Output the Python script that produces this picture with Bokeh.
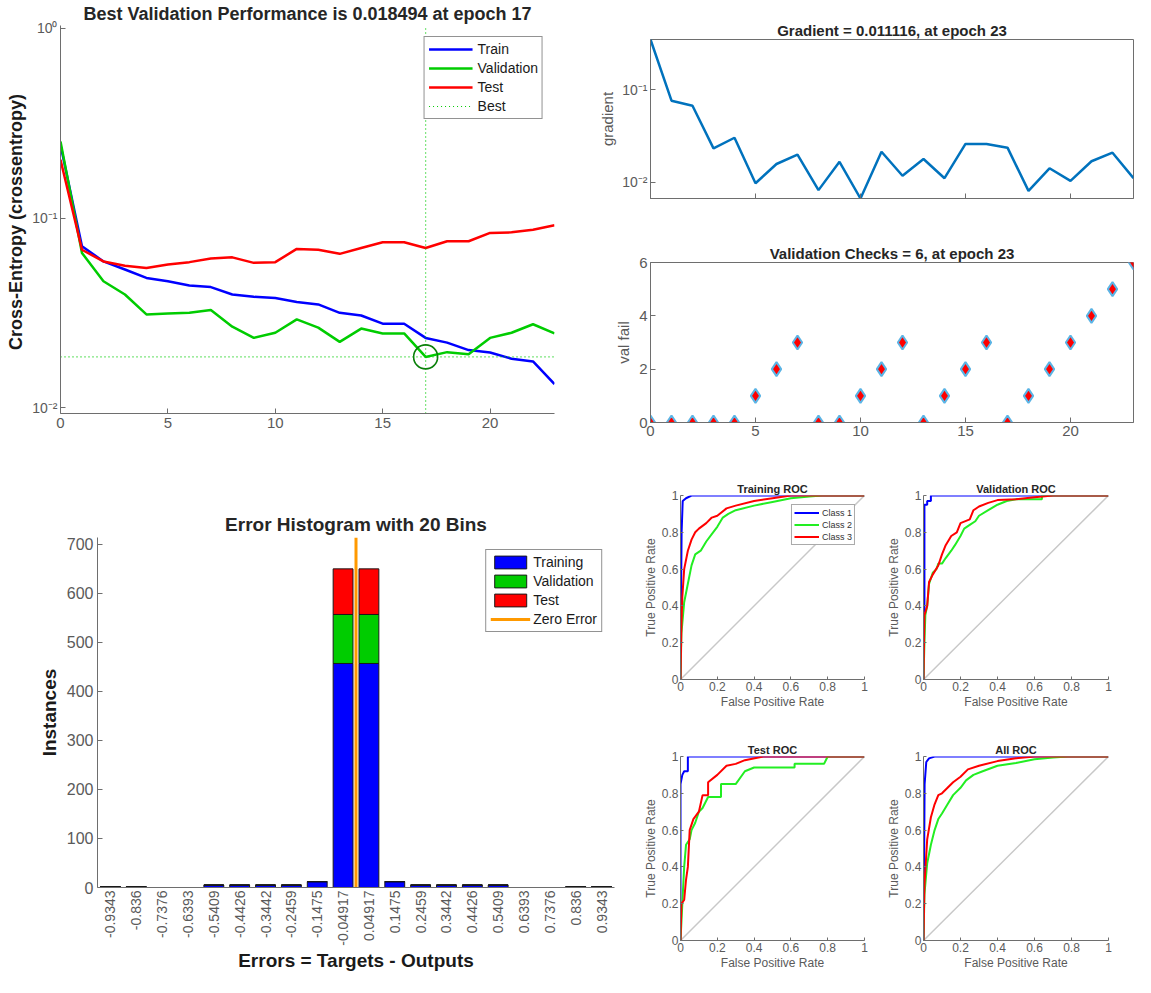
import math
from bokeh.plotting import figure
from bokeh.layouts import row, column
from bokeh.models import (Range1d, FixedTicker, CustomJSTickFormatter, Legend, LegendItem,
                          ColumnDataSource)
from bokeh.embed import file_html
from bokeh.resources import INLINE

# ---------------- data ----------------
epochs = list(range(24))
perf_train = [0.243, 0.071, 0.059, 0.0535, 0.0483, 0.0464, 0.044, 0.0432, 0.0395, 0.0384, 0.0378, 0.036,
              0.035, 0.0316, 0.0306, 0.0277, 0.0277, 0.0233, 0.022, 0.0201, 0.0195, 0.0181, 0.0175, 0.0133]
perf_val = [0.253, 0.0654, 0.0464, 0.0395, 0.031, 0.0313, 0.0316, 0.0327, 0.0267, 0.0233, 0.0248, 0.0292,
            0.0264, 0.0222, 0.0261, 0.0246, 0.0246, 0.018494, 0.0196, 0.0191, 0.0233, 0.0248, 0.0275, 0.0246]
perf_test = [0.203, 0.068, 0.059, 0.056, 0.0545, 0.0568, 0.0585, 0.0611, 0.062, 0.058, 0.0585, 0.0687,
             0.068, 0.0647, 0.0695, 0.0745, 0.0745, 0.0695, 0.0754, 0.0754, 0.0834, 0.084, 0.0868, 0.0916]
best_epoch = 17
best_perf = 0.018494

gradient = [0.347, 0.076, 0.067, 0.0233, 0.0303, 0.0098, 0.0158, 0.0199, 0.00826, 0.0167, 0.00671, 0.0214,
            0.0118, 0.0179, 0.0111, 0.026, 0.026, 0.0237, 0.0081, 0.0142, 0.0104, 0.0169, 0.0209, 0.011116]
val_fail = [0, 0, 0, 0, 0, 1, 2, 3, 0, 0, 1, 2, 3, 0, 1, 2, 3, 0, 1, 2, 3, 4, 5, 6]

bin_centers = [-0.9343, -0.836, -0.7376, -0.6393, -0.5409, -0.4426, -0.3442, -0.2459, -0.1475, -0.04917,
               0.04917, 0.1475, 0.2459, 0.3442, 0.4426, 0.5409, 0.6393, 0.7376, 0.836, 0.9343]
bin_labels = ["-0.9343", "-0.836", "-0.7376", "-0.6393", "-0.5409", "-0.4426", "-0.3442", "-0.2459",
              "-0.1475", "-0.04917", "0.04917", "0.1475", "0.2459", "0.3442", "0.4426", "0.5409",
              "0.6393", "0.7376", "0.836", "0.9343"]
hist_training = [2, 2, 0, 0, 5, 5, 5, 5, 12, 457, 457, 12, 5, 5, 5, 5, 0, 0, 2, 2]
hist_validation = [0, 0, 0, 0, 0, 0, 0, 0, 0, 100, 100, 0, 0, 0, 0, 0, 0, 0, 0, 0]
hist_test = [0, 0, 0, 0, 0, 0, 0, 0, 0, 93, 93, 0, 0, 0, 0, 0, 0, 0, 0, 0]
zero_error = 0.0

tr_c1_fpr = [0, 0.003, 0.006, 0.012, 0.03, 0.06, 1]
tr_c1_tpr = [0, 0.45, 0.8, 0.97, 0.985, 1, 1]
tr_c2_fpr = [0, 0.005, 0.02, 0.04, 0.06, 0.08, 0.11, 0.14, 0.17, 0.2, 0.23, 0.26, 0.3, 0.4, 0.5, 0.6, 0.7, 0.77, 1]
tr_c2_tpr = [0, 0.25, 0.42, 0.52, 0.62, 0.68, 0.7, 0.75, 0.79, 0.83, 0.88, 0.9, 0.92, 0.945, 0.965, 0.985, 0.995, 1, 1]
tr_c3_fpr = [0, 0.005, 0.01, 0.02, 0.04, 0.06, 0.08, 0.1, 0.14, 0.17, 0.2, 0.25, 0.3, 0.4, 0.5, 0.6, 1]
tr_c3_tpr = [0, 0.3, 0.45, 0.6, 0.7, 0.76, 0.8, 0.82, 0.85, 0.88, 0.89, 0.93, 0.945, 0.97, 0.985, 1, 1]

va_c1_fpr = [0, 0, 0.005, 0.005, 0.02, 0.02, 0.04, 0.04, 1]
va_c1_tpr = [0, 0.37, 0.37, 0.95, 0.95, 0.97, 0.97, 1, 1]
va_c2_fpr = [0, 0.005, 0.01, 0.02, 0.03, 0.05, 0.07, 0.08, 0.1, 0.12, 0.15, 0.17, 0.2, 0.22, 0.25, 0.28,
             0.3, 0.35, 0.4, 0.45, 0.5, 0.64, 0.64, 1]
va_c2_tpr = [0, 0.2, 0.35, 0.4, 0.52, 0.58, 0.6, 0.63, 0.63, 0.66, 0.7, 0.73, 0.78, 0.82, 0.84, 0.86,
             0.89, 0.92, 0.95, 0.97, 0.98, 0.98, 1, 1]
va_c3_fpr = [0, 0.005, 0.02, 0.03, 0.05, 0.08, 0.1, 0.12, 0.15, 0.18, 0.2, 0.25, 0.27, 0.3, 0.35, 0.4, 0.5, 0.6, 0.7, 1]
va_c3_tpr = [0, 0.35, 0.4, 0.53, 0.57, 0.62, 0.68, 0.73, 0.78, 0.8, 0.85, 0.87, 0.92, 0.94, 0.96, 0.975, 0.98, 0.99, 1, 1]

te_c1_fpr = [0, 0, 0.01, 0.02, 0.04, 0.04, 1]
te_c1_tpr = [0, 0.85, 0.9, 0.92, 0.92, 1, 1]
te_c2_fpr = [0, 0.005, 0.01, 0.02, 0.03, 0.05, 0.06, 0.08, 0.1, 0.12, 0.15, 0.22, 0.22, 0.3, 0.35, 0.4,
             0.62, 0.62, 0.78, 0.8, 1]
te_c2_tpr = [0, 0.1, 0.2, 0.4, 0.52, 0.55, 0.6, 0.64, 0.7, 0.72, 0.78, 0.78, 0.85, 0.85, 0.92, 0.94,
             0.94, 0.96, 0.96, 1, 1]
te_c3_fpr = [0, 0.005, 0.02, 0.03, 0.04, 0.05, 0.07, 0.1, 0.12, 0.15, 0.15, 0.2, 0.25, 0.3, 0.35, 0.45, 1]
te_c3_tpr = [0, 0.2, 0.22, 0.33, 0.4, 0.6, 0.66, 0.7, 0.79, 0.79, 0.86, 0.9, 0.95, 0.96, 0.98, 1, 1]

al_c1_fpr = [0, 0.003, 0.006, 0.015, 0.03, 0.06, 1]
al_c1_tpr = [0, 0.4, 0.85, 0.97, 0.99, 1, 1]
al_c2_fpr = [0, 0.005, 0.02, 0.04, 0.06, 0.08, 0.1, 0.13, 0.16, 0.2, 0.23, 0.27, 0.32, 0.4, 0.5, 0.6, 0.7, 0.78, 1]
al_c2_tpr = [0, 0.25, 0.42, 0.52, 0.6, 0.66, 0.69, 0.74, 0.79, 0.83, 0.87, 0.9, 0.92, 0.95, 0.965, 0.985, 0.995, 1, 1]
al_c3_fpr = [0, 0.005, 0.02, 0.04, 0.06, 0.08, 0.1, 0.13, 0.16, 0.2, 0.24, 0.3, 0.4, 0.5, 0.6, 1]
al_c3_tpr = [0, 0.3, 0.55, 0.67, 0.74, 0.79, 0.8, 0.83, 0.86, 0.89, 0.93, 0.95, 0.975, 0.99, 1, 1]

diag_x = [0, 1]
diag_y = [0, 1]

# ---------------- style helpers ----------------
FONT = "Liberation Sans"
AXC = "#6e6e6e"
TXT = "#5a5a5a"
TITLE = "#262626"

LOG_FMT = CustomJSTickFormatter(code="""
const m = {'-':'\u207b','0':'\u2070','1':'\u00b9','2':'\u00b2','3':'\u00b3','4':'\u2074',
           '5':'\u2075','6':'\u2076','7':'\u2077','8':'\u2078','9':'\u2079'};
const e = Math.round(Math.log10(tick));
return '10' + String(e).split('').map(c => m[c]).join('');
""")


def make_fig(w, h, left, right, top, bottom, **kw):
    p = figure(width=w, height=h, min_border_left=left, min_border_right=right,
               min_border_top=top, min_border_bottom=bottom, output_backend="svg",
               toolbar_location=None, **kw)
    p.grid.visible = False
    p.outline_line_color = None
    p.background_fill_color = "white"
    p.border_fill_color = "white"
    return p


def style_axis(ax, fs, label_fs=None, label_bold=False, label_color=TXT, standoff=4, lstandoff=4):
    ax.axis_line_color = AXC
    ax.major_tick_line_color = AXC
    ax.minor_tick_line_color = None
    ax.major_tick_in = 5
    ax.major_tick_out = 0
    ax.major_label_text_font = FONT
    ax.major_label_text_font_size = fs
    ax.major_label_text_color = TXT
    ax.major_label_standoff = standoff
    ax.axis_label_text_font = FONT
    ax.axis_label_text_font_size = label_fs or fs
    ax.axis_label_text_font_style = "bold" if label_bold else "normal"
    ax.axis_label_text_color = label_color
    ax.axis_label_standoff = lstandoff


def set_title(p, text, fs, standoff):
    p.title.text = text
    p.title.text_font = FONT
    p.title.text_font_size = fs
    p.title.text_font_style = "bold"
    p.title.text_color = TITLE
    p.title.align = "center"
    p.title.standoff = standoff


# ---------------- performance ----------------
pA = make_fig(580, 468, 60, 26, 24, 55, y_axis_type="log",
              x_range=Range1d(0, 23), y_range=Range1d(0.0093, 1.037))
set_title(pA, "Best Validation Performance is 0.018494 at epoch 17", "18px", 3)
r_tr = pA.line(epochs, perf_train, line_color="#0000FF", line_width=2.5)
r_va = pA.line(epochs, perf_val, line_color="#00CC00", line_width=2.5)
r_te = pA.line(epochs, perf_test, line_color="#FF0000", line_width=2.5)
r_best = pA.line([best_epoch, best_epoch], [0.0093, 1.037], line_color="#00CC00", line_dash="1 3", line_width=1.2)
pA.line([0, 23], [best_perf, best_perf], line_color="#00CC00", line_dash="1 3", line_width=1.2)
pA.scatter([best_epoch], [best_perf], marker="circle", size=24, fill_color=None,
           line_color="#0a800a", line_width=1.6)
pA.xaxis.ticker = FixedTicker(ticks=[0, 5, 10, 15, 20])
pA.yaxis.ticker = FixedTicker(ticks=[0.01, 0.1, 1])
pA.yaxis.formatter = LOG_FMT
pA.yaxis.axis_label = "Cross-Entropy  (crossentropy)"
style_axis(pA.xaxis[0], "15px", "18px", True, "#1a1a1a")
style_axis(pA.yaxis[0], "14px", "18px", True, "#1a1a1a", standoff=3, lstandoff=3)
legA = Legend(items=[LegendItem(label="Train", renderers=[r_tr]),
                     LegendItem(label="Validation", renderers=[r_va]),
                     LegendItem(label="Test", renderers=[r_te]),
                     LegendItem(label="Best", renderers=[r_best])],
              location="top_right", margin=11, padding=4, spacing=3,
              glyph_width=44, glyph_height=16, label_height=16, label_standoff=5,
              label_text_font=FONT, label_text_font_size="14px", label_text_color="#1a1a1a",
              border_line_color="#262626", border_line_width=1, background_fill_color="white",
              background_fill_alpha=1)
pA.add_layout(legA)

# ---------------- gradient ----------------
pB = make_fig(555, 232, 70, 2, 39, 34, y_axis_type="log",
              x_range=Range1d(0, 23), y_range=Range1d(min(gradient), max(gradient)))
set_title(pB, "Gradient = 0.011116, at epoch 23", "15px", 2)
pB.line(epochs, gradient, line_color="#0072BD", line_width=2.5)
pB.outline_line_color = "#6e6e6e"
pB.xaxis.ticker = FixedTicker(ticks=[0, 5, 10, 15, 20])
pB.yaxis.ticker = FixedTicker(ticks=[0.01, 0.1])
pB.yaxis.formatter = LOG_FMT
pB.yaxis.axis_label = "gradient"
for ax in pB.xaxis + pB.yaxis:
    style_axis(ax, "14px", "15px", False, TXT, standoff=3, lstandoff=3)
pB.xaxis.major_label_text_color = None

# ---------------- validation checks ----------------
pC = make_fig(555, 236, 70, 2, 30, 46, x_range=Range1d(0, 23), y_range=Range1d(0, 6))
set_title(pC, "Validation Checks = 6, at epoch 23", "15px", 2)
pC.scatter(epochs, val_fail, marker="diamond", size=14, fill_color="#FF0000",
           line_color="#5BB4E5", line_width=2)
pC.outline_line_color = "#6e6e6e"
pC.xaxis.ticker = FixedTicker(ticks=[0, 5, 10, 15, 20])
pC.yaxis.ticker = FixedTicker(ticks=[0, 2, 4, 6])
pC.yaxis.axis_label = "val fail"
for ax in pC.xaxis + pC.yaxis:
    style_axis(ax, "15px", "15px", False, TXT, standoff=3, lstandoff=4)

# ---------------- error histogram ----------------
pD = make_fig(625, 509, 97, 11, 69, 90, x_range=Range1d(-0.9835, 0.9835), y_range=Range1d(0, 714))
set_title(pD, "Error Histogram with 20 Bins", "19px", 5)
src = ColumnDataSource(dict(x=bin_centers, Training=hist_training,
                            Validation=hist_validation, Test=hist_test))
bars = pD.vbar_stack(["Training", "Validation", "Test"], x="x", width=0.0755, source=src,
                     fill_color=["#0000FF", "#00CC00", "#FF0000"], line_color="#1a1a1a", line_width=1)
r_zero = pD.line([zero_error, zero_error], [0, 714], line_color="#FF9900", line_width=3)
pD.xaxis.ticker = FixedTicker(ticks=bin_centers)
pD.xaxis.formatter = CustomJSTickFormatter(args=dict(labels=bin_labels), code="return labels[index];")
pD.xaxis.major_label_orientation = math.pi / 2
pD.yaxis.ticker = FixedTicker(ticks=[0, 100, 200, 300, 400, 500, 600, 700])
pD.xaxis.axis_label = "Errors = Targets - Outputs"
pD.yaxis.axis_label = "Instances"
style_axis(pD.xaxis[0], "14px", "19px", True, "#1a1a1a", standoff=3, lstandoff=1)
style_axis(pD.yaxis[0], "16px", "19px", True, "#1a1a1a", standoff=4, lstandoff=4)
pD.xaxis.major_tick_line_color = None
legD = Legend(items=[LegendItem(label="Training", renderers=[bars[0]]),
                     LegendItem(label="Validation", renderers=[bars[1]]),
                     LegendItem(label="Test", renderers=[bars[2]]),
                     LegendItem(label="Zero Error", renderers=[r_zero])],
              location="top_right", margin=12, padding=4, spacing=3,
              glyph_width=40, glyph_height=16, label_height=16, label_standoff=3,
              label_text_font=FONT, label_text_font_size="14px", label_text_color="#1a1a1a",
              border_line_color="#262626", border_line_width=1, background_fill_color="white")
pD.add_layout(legD)

# ---------------- ROC ----------------
ROC_FMT = CustomJSTickFormatter(code="return String(Math.round(tick * 10) / 10);")


def make_roc(title, w, h, left, right, top, bottom, curves, legend=False):
    p = make_fig(w, h, left, right, top, bottom, x_range=Range1d(0, 1), y_range=Range1d(0, 1))
    set_title(p, title, "11px", 2)
    p.line(diag_x, diag_y, line_color="#c8c8c8", line_width=1.5)
    rs = []
    for (fx, fy), col in zip(curves, ["#0000FF", "#22EE22", "#FF0000"]):
        rs.append(p.line(fx, fy, line_color=col, line_width=2))
    p.xaxis.ticker = FixedTicker(ticks=[0, 0.2, 0.4, 0.6, 0.8, 1])
    p.yaxis.ticker = FixedTicker(ticks=[0, 0.2, 0.4, 0.6, 0.8, 1])
    p.xaxis.formatter = ROC_FMT
    p.yaxis.formatter = ROC_FMT
    p.xaxis.axis_label = "False Positive Rate"
    p.yaxis.axis_label = "True Positive Rate"
    for ax in p.xaxis + p.yaxis:
        style_axis(ax, "12px", "12px", False, TXT, standoff=2, lstandoff=1)
        ax.major_tick_in = 3
    if legend:
        lg = Legend(items=[LegendItem(label="Class 1", renderers=[rs[0]]),
                           LegendItem(label="Class 2", renderers=[rs[1]]),
                           LegendItem(label="Class 3", renderers=[rs[2]])],
                    location="top_right", margin=9, padding=2, spacing=1,
                    glyph_width=25, glyph_height=11, label_height=11, label_standoff=3,
                    label_text_font=FONT, label_text_font_size="9px", label_text_color="#333333",
                    border_line_color="#555555", border_line_width=1, background_fill_color="white")
        p.add_layout(lg)
    return p


r1 = make_roc("Training ROC", 250, 260, 55, 11, 27, 49,
              [(tr_c1_fpr, tr_c1_tpr), (tr_c2_fpr, tr_c2_tpr), (tr_c3_fpr, tr_c3_tpr)], legend=True)
r2 = make_roc("Validation ROC", 260, 260, 48, 27, 27, 49,
              [(va_c1_fpr, va_c1_tpr), (va_c2_fpr, va_c2_tpr), (va_c3_fpr, va_c3_tpr)])
r3 = make_roc("Test ROC", 250, 249, 55, 11, 28, 37,
              [(te_c1_fpr, te_c1_tpr), (te_c2_fpr, te_c2_tpr), (te_c3_fpr, te_c3_tpr)])
r4 = make_roc("All ROC", 260, 249, 48, 27, 28, 37,
              [(al_c1_fpr, al_c1_tpr), (al_c2_fpr, al_c2_tpr), (al_c3_fpr, al_c3_tpr)])

layout = column(
    row(pA, column(pB, pC)),
    row(pD, column(row(r1, r2), row(r3, r4))),
)

open("out.html", "w").write(file_html(layout, INLINE))
